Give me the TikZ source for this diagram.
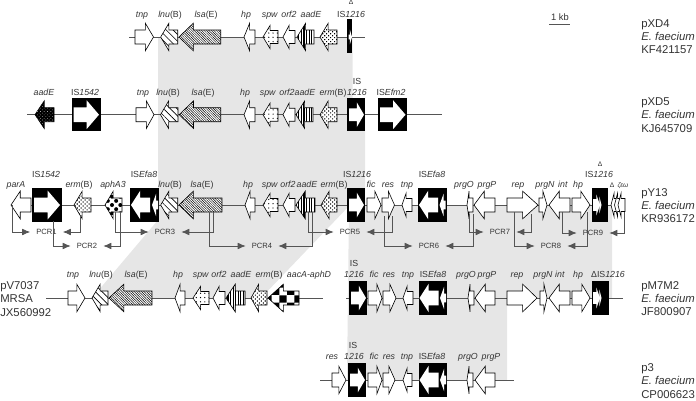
\documentclass[tikz,border=0pt]{standalone}
\usepackage{fontspec}
\setmainfont{Liberation Sans}
\usetikzlibrary{shapes,arrows.meta,positioning,patterns,patterns.meta}
\definecolor{mapShade}{HTML}{E6E6E6}
\definecolor{mapText}{HTML}{333333}
\definecolor{mapLine}{HTML}{555555}
\tikzset{
    arrowBase/.style n args={4}{
        single arrow,
        draw=black,
        fill=white,
        line width=0.45pt,
        inner xsep=0pt,
        inner ysep={#4*0.75pt},
        outer sep=0pt,
        anchor=tail,
        minimum height={#1*0.75pt},
        minimum width={2*#3*0.75pt},
        single arrow head extend={(#3-#4)*0.75pt},
        single arrow tip angle={2*atan(#3/#2)}
    },
    % gene arrows: length, head length
    geneR/.style 2 args={arrowBase={#1}{#2}{13.5}{6.7}},
    geneL/.style 2 args={arrowBase={#1}{#2}{13.5}{6.7}, shape border rotate=180},
    smallL/.style 2 args={arrowBase={#1}{#2}{11.5}{6.2}, shape border rotate=180},
    % IS elements
    isBox/.style={rectangle, fill=black, minimum width={#1*0.75pt}, minimum height=25pt, inner sep=0pt},
    isR/.style n args={4}{arrowBase={#1}{#2}{#3}{#4}, draw=none},
    isL/.style n args={4}{arrowBase={#1}{#2}{#3}{#4}, draw=none, shape border rotate=180},
    % Fills
    lnuFill/.style={postaction={pattern={Lines[angle=-45,distance=3.6pt,line width=0.5pt]}}},
    lsaFill/.style={postaction={pattern={Lines[angle=-45,distance=1.3pt,line width=0.35pt]}}},
    spwFill/.style={postaction={pattern={Dots[distance=3.2pt,radius=0.5pt]}}},
    aadFill/.style={postaction={pattern={Lines[angle=90,distance=1.9pt,line width=0.8pt]}}},
    ermFill/.style={postaction={pattern={Dots[angle=45,distance=2.1pt,radius=0.6pt]}}},
    aphFill/.style={postaction={pattern={Dots[angle=45,distance=4.4pt,radius=1.5pt]}}},
    aadDark/.style={fill=black, postaction={pattern={Dots[angle=45,distance=1.8pt,radius=0.28pt],pattern color=white}}, pattern color=white},
    aacFill/.style={postaction={pattern=checkerboard, pattern color=black}},
    % Text
    geneLabel/.style={font=\fontsize{6.6}{8}\selectfont, text=mapText, anchor=base, inner sep=0pt},
    plasmidLabel/.style={font=\fontsize{8.5}{10}\selectfont, text=mapText, anchor=west, align=left, inner sep=0pt},
    pcrLabel/.style={font=\fontsize{5.7}{7}\selectfont, text=mapText, minimum width=24pt, inner sep=0pt},
    % Lines
    axisLine/.style={draw=mapLine, line width=0.75pt},
    pcrArrow/.style={draw=mapLine, line width=0.6pt, -{Latex[length=6pt,width=5pt]}}
}
\begin{document}
\begin{tikzpicture}[x=0.75pt,y=-0.75pt]
\useasboundingbox (0,0) rectangle (696,400);
% shaded homology
\fill[mapShade] (158,37) -- (352.5,37) -- (352.5,114.7) -- (365,114.7) -- (365,205) -- (350,205) -- (261,298) -- (92,298) -- (158,220) -- cycle;
\fill[mapShade] (349,205) -- (612,205) -- (612,298) -- (507,298) -- (507,380) -- (347,380) -- cycle;

% backbones
\foreach \n/\a/\b/\y in {A/129/365/37, B/27/442/114.7, C/11/624/205, D/46/323/298, E/346/623/298, F/320/514/380}{
    \coordinate (startAxis\n) at (\a,\y);
    \coordinate (endAxis\n) at (\b,\y);
    \draw[axisLine] (startAxis\n) -- (endAxis\n);
}

% pXD4
\node[geneR={18.5}{8}] (tnpA) at (135,37) {};
\node[geneL={17}{8}, lnuFill] (lnuA) at (177.7,37) {};
\node[geneL={41.7}{14}, lsaFill] (lsaA) at (220.7,37) {};
\node[geneL={11}{5.5}] (hpA) at (255,37) {};
\node[smallL={15}{7}, spwFill] (spwA) at (278,37) {};
\node[smallL={12}{6}] (orfA) at (295,37) {};
\node[geneL={17}{8.5}, aadFill] (aadA) at (314,37) {};
\node[geneL={17}{8}, ermFill] (ermA) at (337,37) {};
\node[isBox=5.5] (isdA) at (349.5,36) {};
\node[isR={3.5}{2}{7}{2}] (isdArrowA) at (348.5,37) {};

% pXD5
\node[geneL={19}{9}, aadDark] (aadB0) at (54,114.7) {};
\node[isBox=29] (is1542B) at (86.5,114.7) {};
\node[isR={25.5}{12}{14}{7}] (is1542ArrowB) at (73.5,114.7) {};
\node[geneR={18}{7.5}] (tnpB) at (136,114.7) {};
\node[geneL={17.5}{8}, lnuFill] (lnuB) at (178,114.7) {};
\node[geneL={41.5}{14}, lsaFill] (lsaB) at (220.7,114.7) {};
\node[geneL={11}{5.5}] (hpB) at (255,114.7) {};
\node[smallL={15}{7}, spwFill] (spwB) at (278,114.7) {};
\node[smallL={12}{6}] (orfB) at (295,114.7) {};
\node[geneL={17}{8.5}, aadFill] (aadB) at (313,114.7) {};
\node[geneL={17}{8}, ermFill] (ermB) at (337,114.7) {};
\node[isBox=18] (is1216B) at (356,114.7) {};
\node[isR={15}{7}{12}{6}] (is1216ArrowB) at (349,114.7) {};
\node[isBox=29] (isEfmB) at (392.5,114.7) {};
\node[isR={25.5}{12}{14}{7}] (isEfmArrowB) at (380,114.7) {};

% pY13
\node[geneL={20}{9}] (parC) at (31,205) {};
\node[isBox=30] (is1542C) at (47,205) {};
\node[isR={26}{12}{14}{7}] (is1542ArrowC) at (34,205) {};
\node[geneL={17}{8}, ermFill] (ermC0) at (91,205) {};
\node[geneL={17}{8}, aphFill] (aphC) at (122,205) {};
\node[isBox=29] (isEfaC0) at (144.5,205) {};
\node[isL={19}{9}{14}{7}] (isEfaArrowC0) at (150,205) {};
\node[isL={6}{4}{11}{4}] (isEfaTipC0) at (158,205) {};
\node[geneL={17}{8}, lnuFill] (lnuC) at (177.7,205) {};
\node[geneL={43}{14}, lsaFill] (lsaC) at (222,205) {};
\node[geneL={10}{5}] (hpC) at (255,205) {};
\node[smallL={15}{7}, spwFill] (spwC) at (278,205) {};
\node[smallL={12}{6}] (orfC) at (295,205) {};
\node[geneL={19}{9}, aadFill] (aadC) at (315,205) {};
\node[geneL={16}{8}, ermFill] (ermC) at (337,205) {};
\node[isBox=18] (is1216C) at (356,205) {};
\node[isR={15}{7}{12}{6}] (is1216ArrowC) at (349,205) {};
\node[geneR={14}{6}] (ficC) at (367,205) {};
\node[geneR={12.5}{6}] (resC) at (382,205) {};
\node[smallL={10}{4}] (tnpC) at (412,205) {};
\node[isBox=29] (isEfaC) at (432.5,205) {};
\node[isL={19}{9}{14}{7}] (isEfaArrowC) at (438,205) {};
\node[isL={6}{4}{11}{4}] (isEfaTipC) at (445.5,205) {};
\node[geneL={6}{2}] (prgOC) at (473,205) {};
\node[geneL={21}{10}] (prgPC) at (495,205) {};
\node[geneR={31}{15}] (repC) at (507,205) {};
\node[geneR={8}{4}] (prgNC) at (539,205) {};
\node[geneL={21}{10}] (intC) at (570,205) {};
\node[geneR={18}{9}] (hpC2) at (572,205) {};
\node[isBox=16] (isdC) at (600,205) {};
\node[isR={7}{3.5}{10}{5.5}] (isdArrowC) at (593,205) {};
\node[isR={2.5}{2}{8}{1}] (isdSlitC) at (599,205) {};
\node[smallL={7}{3}] (zetaC) at (618,205) {};
\node[smallL={7}{3}] (epsilonC) at (621.5,205) {};
\node[smallL={7}{3}] (omegaC) at (625,205) {};

% pV7037
\node[geneR={17}{8}] (tnpD) at (68,298) {};
\node[geneL={16}{8}, lnuFill] (lnuD) at (108,298) {};
\node[geneL={43}{14.5}, lsaFill] (lsaD) at (152,298) {};
\node[geneL={10}{5}] (hpD) at (185,298) {};
\node[smallL={16}{7.5}, spwFill] (spwD) at (209,298) {};
\node[smallL={12}{6}] (orfD) at (225,298) {};
\node[geneL={19}{9}, aadFill] (aadD) at (245,298) {};
\node[geneL={16}{7.5}, ermFill] (ermD) at (267,298) {};
\node[geneL={31}{15}, aacFill] (aacD) at (299,298) {};

% pM7M2
\node[isBox=18] (is1216E) at (358,298) {};
\node[isR={15}{7}{12}{6}] (is1216ArrowE) at (351,298) {};
\node[geneR={14}{5}] (ficE) at (368,298) {};
\node[geneR={13}{6}] (resE) at (383,298) {};
\node[smallL={10}{4}] (tnpE) at (413,298) {};
\node[isBox=28] (isEfaE) at (433,298) {};
\node[isL={19}{9}{14}{7}] (isEfaArrowE) at (438.5,298) {};
\node[isL={6}{4}{11}{4}] (isEfaTipE) at (446,298) {};
\node[geneL={6}{2}] (prgOE) at (474,298) {};
\node[geneL={20}{10}] (prgPE) at (495,298) {};
\node[geneR={30}{14}] (repE) at (507,298) {};
\node[geneR={7}{3}] (prgNE) at (540,298) {};
\node[geneL={21}{10}] (intE) at (570,298) {};
\node[geneR={18}{8}] (hpE) at (572,298) {};
\node[isBox=17] (isdE) at (600.5,298) {};
\node[isR={7}{3.5}{10}{5.5}] (isdArrowE) at (593,298) {};
\node[isR={2.5}{2}{8}{1}] (isdSlitE) at (599,298) {};

% p3
\node[geneR={14}{7}] (resF0) at (332,380) {};
\node[isBox=18] (is1216F) at (357,380) {};
\node[isR={15}{7}{12}{6}] (is1216ArrowF) at (350,380) {};
\node[geneR={14}{5}] (ficF) at (368,380) {};
\node[geneR={12}{6}] (resF) at (383,380) {};
\node[smallL={9}{4}] (tnpF) at (412,380) {};
\node[isBox=28] (isEfaF) at (433,380) {};
\node[isL={19}{9}{14}{7}] (isEfaArrowF) at (438.5,380) {};
\node[isL={6}{4}{11}{4}] (isEfaTipF) at (446,380) {};
\node[geneL={6}{2}] (prgOF) at (473,380) {};
\node[geneL={20}{10}] (prgPF) at (495,380) {};

% gene labels
\foreach \x/\t in {142/\textit{tnp}, 170/\textit{lnu}(B), 206/\textit{lsa}(E), 246/\textit{hp}, 270/\textit{spw}, 289/\textit{orf2}, 311/\textit{aadE}, 351/IS\textit{1216}}
    \node[geneLabel] (labA\x) at (\x,17) {\t};
\node[geneLabel, above=4pt of labA351, font=\fontsize{5}{6}\selectfont] (deltaA) {Δ};
\foreach \x/\t in {44/\textit{aadE}, 85/IS\textit{1542}, 143/\textit{tnp}, 168/\textit{lnu}(B), 203/\textit{lsa}(E), 245/\textit{hp}, 268/\textit{spw}, 287/\textit{orf2}, 305/\textit{aadE}, 333/\textit{erm}(B), 357/\textit{1216}, 391/IS\textit{Efm2}}
    \node[geneLabel] (labB\x) at (\x,95) {\t};
\node[geneLabel] (labBis) at (357,84) {IS};
\foreach \x/\t in {16/\textit{parA}, 79/\textit{erm}(B), 113/\textit{aphA3}, 170/\textit{lnu}(B), 202/\textit{lsa}(E), 248/\textit{hp}, 270/\textit{spw}, 288/\textit{orf2}, 307/\textit{aadE}, 334/\textit{erm}(B), 371/\textit{fic}, 388/\textit{res}, 407/\textit{tnp}, 464/\textit{prgO}, 487/\textit{prgP}, 518/\textit{rep}, 545/\textit{prgN}, 563/\textit{int}, 578/\textit{hp}}
    \node[geneLabel] (labC\x) at (\x,187) {\t};
\foreach \x/\t in {46/IS\textit{1542}, 144/IS\textit{Efa8}, 357/IS\textit{1216}, 432/IS\textit{Efa8}, 599/IS\textit{1216}}
    \node[geneLabel] (labCis\x) at (\x,177) {\t};
\node[geneLabel, font=\fontsize{5}{6}\selectfont] (deltaC) at (600,166) {Δ};
\node[geneLabel, font=\fontsize{5}{6}\selectfont] (deltaC2) at (612,187) {Δ};
\node[geneLabel, font=\fontsize{5}{6}\selectfont] (greekC) at (623,187) {\textit{ζεω}};
\foreach \x/\t in {73/\textit{tnp}, 101/\textit{lnu}(B), 136/\textit{lsa}(E), 178/\textit{hp}, 201/\textit{spw}, 219/\textit{orf2}, 241/\textit{aadE}, 269/\textit{erm}(B), 309/\textit{aacA-aphD}, 354/\textit{1216}, 374/\textit{fic}, 389/\textit{res}, 408/\textit{tnp}, 433/IS\textit{Efa8}, 466/\textit{prgO}, 487/\textit{prgP}, 517/\textit{rep}, 543/\textit{prgN}, 560/\textit{int}, 578/\textit{hp}, 608/ΔIS\textit{1216}}
    \node[geneLabel] (labD\x) at (\x,277) {\t};
\node[geneLabel] (labDis) at (354,266) {IS};
\foreach \x/\t in {332/\textit{res}, 354/\textit{1216}, 374/\textit{fic}, 389/\textit{res}, 407/\textit{tnp}, 432/IS\textit{Efa8}, 468/\textit{prgO}, 491/\textit{prgP}}
    \node[geneLabel] (labF\x) at (\x,359) {\t};
\node[geneLabel] (labFis) at (353,348) {IS};

% PCR products
\foreach \n/\lx/\ly/\ax/\ay/\bx/\by in {1/46.5/232/12/205/80/216, 2/87/246/53.7/221/120/212, 3/165/232/115/212/213/212, 4/262/246/209/212/312/212, 5/350/232/308/212/392/216, 6/429/246/384/216/473/214, 7/500/232/469/214/531/214, 8/551/246/514/212/587/212, 9/593/233/562/212/624/212}{
    \node[pcrLabel] (pcr\n) at (\lx,\ly) {PCR\n};
    \coordinate (pcrLeft\n) at (\ax,\ay);
    \coordinate (pcrRight\n) at (\bx,\by);
    \draw[pcrArrow] (pcrLeft\n) |- (pcr\n);
    \draw[pcrArrow] (pcrRight\n) |- (pcr\n);
}

% scale
\node[geneLabel, font=\fontsize{7}{8}\selectfont] (scaleText) at (560,20) {1 kb};
\coordinate (scaleLeft) at (549,24);
\coordinate (scaleRight) at (570,24);
\draw[draw=mapLine, line width=0.6pt] (scaleLeft) -- (scaleRight);

% plasmids
\node[plasmidLabel] (pXD4) at (641,36.5) {pXD4\\\textit{E. faecium}\\KF421157};
\node[plasmidLabel] (pXD5) at (641,115) {pXD5\\\textit{E. faecium}\\KJ645709};
\node[plasmidLabel] (pY13) at (641,205.5) {pY13\\\textit{E. faecium}\\KR936172};
\node[plasmidLabel] (pV7037) at (0,299) {pV7037\\MRSA\\JX560992};
\node[plasmidLabel] (pM7M2) at (641,298.5) {pM7M2\\\textit{E. faecium}\\JF800907};
\node[plasmidLabel] (p3) at (641,381) {p3\\\textit{E. faecium}\\CP006623};
\end{tikzpicture}
\end{document}
